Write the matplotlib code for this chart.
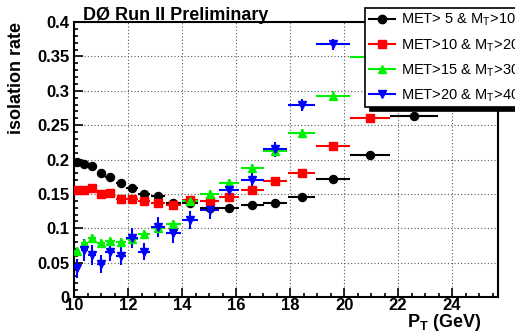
import numpy as np
import matplotlib
matplotlib.use("Agg")
import matplotlib.pyplot as plt
from matplotlib.lines import Line2D
from matplotlib.ticker import MultipleLocator

plt.rcParams['font.family'] = 'Liberation Sans'
plt.rcParams['mathtext.fontset'] = 'custom'
plt.rcParams['mathtext.rm'] = 'Liberation Sans'
plt.rcParams['mathtext.bf'] = 'Liberation Sans:bold'

# pT bins (GeV): centres and half widths
pt = [10.12, 10.38, 10.67, 11.0, 11.33, 11.74, 12.15, 12.6, 13.12, 13.68,
      14.3, 15.02, 15.75, 16.6, 17.45, 18.43, 19.59, 20.96, 22.59]
pt_err = [0.12, 0.13, 0.15, 0.16, 0.17, 0.2, 0.21, 0.23, 0.26, 0.28,
          0.3, 0.34, 0.37, 0.42, 0.45, 0.5, 0.63, 0.74, 0.89]

# isolation rate for each MET / MT cut
rate_met5 = [0.196, 0.193, 0.190, 0.181, 0.175, 0.166, 0.158, 0.150, 0.147, 0.137,
             0.137, 0.129, 0.130, 0.134, 0.137, 0.146, 0.172, 0.206, 0.263]
err_met5 = [0.003] * 19
rate_met10 = [0.155, 0.156, 0.158, 0.150, 0.152, 0.143, 0.142, 0.139, 0.137, 0.134,
              0.141, 0.139, 0.145, 0.155, 0.169, 0.181, 0.220, 0.261]
err_met10 = [0.004] * 18
rate_met15 = [0.067, 0.079, 0.086, 0.078, 0.082, 0.080, 0.085, 0.092, 0.100, 0.106,
              0.139, 0.150, 0.166, 0.188, 0.213, 0.239, 0.293, 0.349]
err_met15 = [0.006] * 18
rate_met20 = [0.042, 0.069, 0.061, 0.048, 0.066, 0.060, 0.086, 0.066, 0.102, 0.093,
              0.112, 0.127, 0.155, 0.170, 0.215, 0.279, 0.368]
err_met20 = [0.014, 0.016, 0.015, 0.013, 0.014, 0.014, 0.015, 0.012, 0.014, 0.014,
             0.013, 0.013, 0.014, 0.012, 0.011, 0.009, 0.008]

labels = ['MET> 5 & M$_\\mathrm{T}$>10', 'MET>10 & M$_\\mathrm{T}$>20',
          'MET>15 & M$_\\mathrm{T}$>30', 'MET>20 & M$_\\mathrm{T}$>40']
colors = ['black', '#ff0000', '#00f000', '#0000ff']
markers = ['o', 's', '^', 'v']

fig = plt.figure(figsize=(5.15, 3.32), dpi=100)
ax = fig.add_axes([0.1437, 0.1054, 0.8233, 0.8283])

series = [(rate_met5, err_met5), (rate_met10, err_met10),
          (rate_met15, err_met15), (rate_met20, err_met20)]
for (y, ye), c, m in zip(series, colors, markers):
    n = len(y)
    ax.errorbar(pt[:n], y, xerr=pt_err[:n], yerr=ye, fmt=m, color=c,
                ms=5.8, elinewidth=1.5, capsize=0, zorder=3)

ax.set_xlim(10, 25.7)
ax.set_ylim(0, 0.4)
ax.xaxis.set_major_locator(MultipleLocator(2))
ax.xaxis.set_minor_locator(MultipleLocator(0.5))
ax.yaxis.set_minor_locator(MultipleLocator(0.01))
ax.set_yticks(np.arange(0, 0.41, 0.05))
ax.set_yticklabels(['0', '0.05', '0.1', '0.15', '0.2', '0.25', '0.3', '0.35', '0.4'])
ax.tick_params(which='both', direction='in', top=False, right=False, width=1.2)
ax.tick_params(which='major', length=6.5)
ax.tick_params(which='minor', length=3)
ax.tick_params(axis='x', pad=1, labelsize=12)
ax.tick_params(axis='y', pad=3, labelsize=12)
for lab in ax.get_xticklabels() + ax.get_yticklabels():
    lab.set_fontweight('bold')
ax.grid(True, which='major', color='0.35', linestyle=(0, (1, 2)), linewidth=0.8)
for s in ax.spines.values():
    s.set_linewidth(1.5)

fig.text(83 / 515, 1 - 20 / 332, 'DØ Run II Preliminary', fontsize=13,
         fontweight='bold', va='baseline', ha='left')
fig.text(17 / 515, 1 - 22 / 332, 'isolation rate', fontsize=13,
         fontweight='bold', rotation=90, va='top', ha='center')
fig.text(481 / 515, 5 / 332, r'$\mathbf{P}_\mathbf{T}$ (GeV)', fontsize=13,
         fontweight='bold', va='baseline', ha='right')

handles = [Line2D([], [], color=c, marker=m, ms=6, lw=1.5)
           for c, m in zip(colors, markers)]
leg = ax.legend(handles, labels, loc='upper left',
                bbox_to_anchor=(365 / 515, 1 - 8 / 332),
                bbox_transform=fig.transFigure, fontsize=10.5,
                labelspacing=0.58, handlelength=1.8, handletextpad=0.4,
                borderpad=0.25, borderaxespad=0, fancybox=False, framealpha=1,
                edgecolor='black',
                shadow={'ox': 3.6, 'oy': -2.9, 'facecolor': 'black',
                        'edgecolor': 'black', 'alpha': 1})
leg.get_frame().set_linewidth(1.2)

fig.savefig('out.png', dpi=100)
